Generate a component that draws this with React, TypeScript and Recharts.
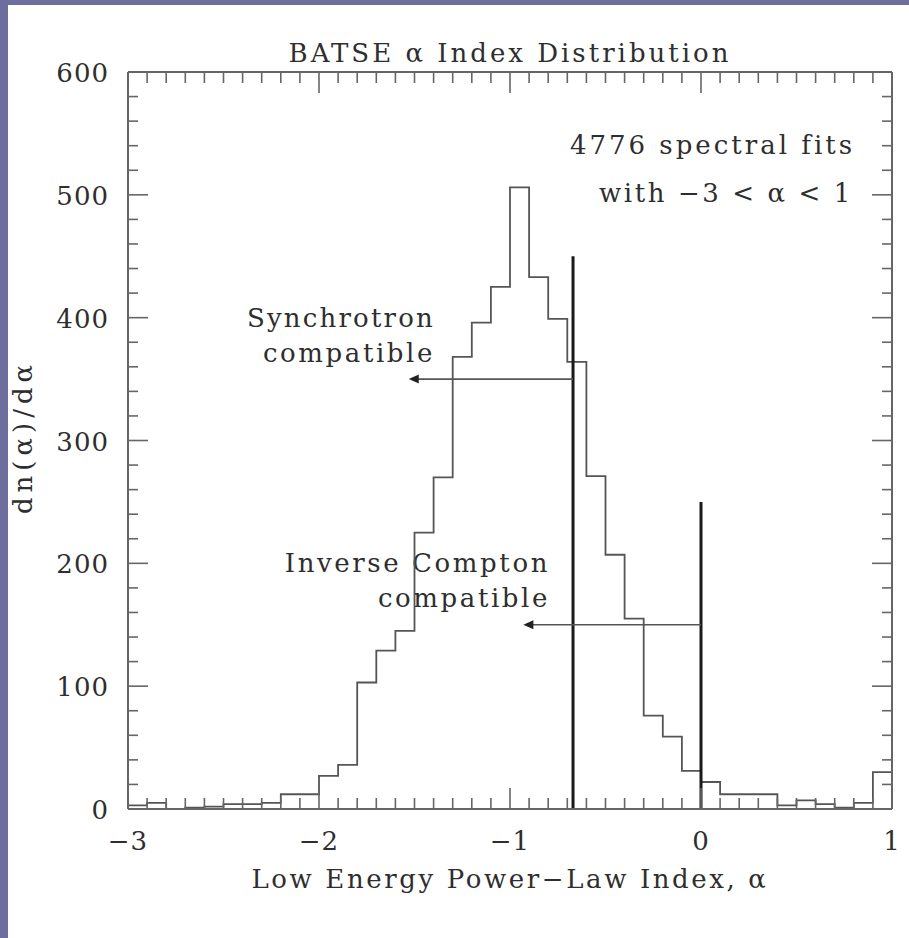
import { ComposedChart, Line, XAxis, YAxis, ReferenceLine, ReferenceDot } from 'recharts'

// bin edges of the alpha histogram (width 0.1), also used as x tick positions
const binEdges = [
  -3, -2.9, -2.8, -2.7, -2.6, -2.5, -2.4, -2.3, -2.2, -2.1,
  -2, -1.9, -1.8, -1.7, -1.6, -1.5, -1.4, -1.3, -1.2, -1.1,
  -1, -0.9, -0.8, -0.7, -0.6, -0.5, -0.4, -0.3, -0.2, -0.1,
  0, 0.1, 0.2, 0.3, 0.4, 0.5, 0.6, 0.7, 0.8, 0.9, 1,
]

// dn(alpha)/dalpha per bin
const binCounts = [
  3, 5, 0, 1, 2, 4, 4, 5, 12, 12,
  27, 36, 103, 129, 145, 225, 270, 368, 396, 425,
  506, 433, 399, 364, 271, 207, 155, 76, 59, 31,
  22, 12, 12, 12, 3, 7, 4, 1, 5, 30,
]

const yTicks = [
  0, 20, 40, 60, 80, 100, 120, 140, 160, 180, 200, 220, 240, 260, 280, 300,
  320, 340, 360, 380, 400, 420, 440, 460, 480, 500, 520, 540, 560, 580, 600,
]

// model boundaries: alpha, line top, arrow level, arrow tip
const synchrotron = { alpha: -0.67, top: 450, arrowY: 350, tip: -1.53 }
const inverseCompton = { alpha: 0, top: 250, arrowY: 150, tip: -0.93 }

const histData = binEdges.map((x, i) => ({ x, y: binCounts[Math.min(i, binCounts.length - 1)] }))

const FONT = '"DejaVu Serif", serif'
const INK = '#2e2e2e'
const FRAME = '#666'

const isMajorX = (v: number) => Math.abs(v - Math.round(v)) < 1e-6
const fmt = (v: number) => (v < 0 ? '\u2212' + Math.abs(v) : String(v))

function BottomTick(props: any) {
  const { x, y, payload } = props
  const major = isMajorX(payload.value)
  return (
    <g>
      <line x1={x} x2={x} y1={y} y2={y - (major ? 21 : 11)} stroke={FRAME} strokeWidth={1.6} />
      {major && (
        <text x={x} y={y + 41} textAnchor="middle" fontFamily={FONT} fontSize={26} fill={INK} letterSpacing={1}>
          {fmt(Math.round(payload.value))}
        </text>
      )}
    </g>
  )
}

function TopTick(props: any) {
  const { x, y, payload } = props
  const major = isMajorX(payload.value)
  return <line x1={x} x2={x} y1={y} y2={y + (major ? 21 : 11)} stroke={FRAME} strokeWidth={1.6} />
}

function LeftTick(props: any) {
  const { x, y, payload } = props
  const major = payload.value % 100 === 0
  return (
    <g>
      <line x1={x} x2={x + (major ? 20 : 10)} y1={y} y2={y} stroke={FRAME} strokeWidth={1.6} />
      {major && (
        <text x={x - 19} y={y + 10} textAnchor="end" fontFamily={FONT} fontSize={26} fill={INK} letterSpacing={1}>
          {payload.value}
        </text>
      )}
    </g>
  )
}

function RightTick(props: any) {
  const { x, y, payload } = props
  const major = payload.value % 100 === 0
  return <line x1={x} x2={x - (major ? 20 : 10)} y1={y} y2={y} stroke={FRAME} strokeWidth={1.6} />
}

function ArrowHead(props: any) {
  const { cx, cy } = props
  return <path d={`M${cx},${cy} L${cx + 10},${cy - 4.5} L${cx + 10},${cy + 4.5} Z`} fill="#222" />
}

const textStyle = { fontFamily: FONT, fontSize: 26, fill: INK, letterSpacing: 2.6 }

export default function App() {
  return (
    <div style={{ position: 'absolute', left: 0, top: 0, width: 909, height: 938, background: '#6d6d9e' }}>
      <div style={{ position: 'absolute', left: 8, top: 5, width: 901, height: 933, background: '#fff' }}>
        <ComposedChart
          width={901}
          height={933}
          data={histData}
          margin={{ top: 57, right: 7, bottom: 89, left: 60 }}
        >
          <XAxis
            dataKey="x"
            type="number"
            domain={[-3, 1]}
            allowDataOverflow
            ticks={binEdges}
            interval={0}
            height={40}
            tickSize={0}
            tickMargin={0}
            tickLine={false}
            tick={<BottomTick />}
            axisLine={{ stroke: FRAME, strokeWidth: 2 }}
          />
          <XAxis
            xAxisId="top"
            orientation="top"
            dataKey="x"
            type="number"
            domain={[-3, 1]}
            allowDataOverflow
            ticks={binEdges}
            interval={0}
            height={10}
            tickSize={0}
            tickMargin={0}
            tickLine={false}
            tick={<TopTick />}
            axisLine={{ stroke: FRAME, strokeWidth: 2 }}
          />
          <YAxis
            type="number"
            domain={[0, 600]}
            allowDataOverflow
            ticks={yTicks}
            interval={0}
            width={60}
            tickSize={0}
            tickMargin={0}
            tickLine={false}
            tick={<LeftTick />}
            axisLine={{ stroke: FRAME, strokeWidth: 2 }}
          />
          <YAxis
            yAxisId="right"
            orientation="right"
            type="number"
            domain={[0, 600]}
            allowDataOverflow
            ticks={yTicks}
            interval={0}
            width={10}
            tickSize={0}
            tickMargin={0}
            tickLine={false}
            tick={<RightTick />}
            axisLine={{ stroke: FRAME, strokeWidth: 2 }}
          />

          <Line
            type="stepAfter"
            dataKey="y"
            stroke="#555"
            strokeWidth={1.8}
            dot={false}
            activeDot={false}
            isAnimationActive={false}
          />

          {[synchrotron, inverseCompton].map((b, i) => (
            <ReferenceLine
              key={'v' + i}
              segment={[{ x: b.alpha, y: 0 }, { x: b.alpha, y: b.top }]}
              stroke="#1a1a1a"
              strokeWidth={3}
            />
          ))}
          {[synchrotron, inverseCompton].map((b, i) => (
            <ReferenceLine
              key={'a' + i}
              segment={[{ x: b.alpha, y: b.arrowY }, { x: b.tip + 0.03, y: b.arrowY }]}
              stroke="#555"
              strokeWidth={1.6}
            />
          ))}
          {[synchrotron, inverseCompton].map((b, i) => (
            <ReferenceDot key={'h' + i} x={b.tip} y={b.arrowY} r={0} shape={<ArrowHead />} />
          ))}

          <text x={502} y={57} textAnchor="middle" {...textStyle} letterSpacing={3}>
            BATSE α Index Distribution
          </text>
          <text x={847} y={149} textAnchor="end" {...textStyle} letterSpacing={3}>4776 spectral fits</text>
          <text x={845} y={197} textAnchor="end" {...textStyle}>with −3 &lt; α &lt; 1</text>
          <text x={427} y={322} textAnchor="end" {...textStyle} letterSpacing={2.2}>Synchrotron</text>
          <text x={427} y={357} textAnchor="end" {...textStyle}>compatible</text>
          <text x={542} y={567} textAnchor="end" {...textStyle}>Inverse Compton</text>
          <text x={542} y={602} textAnchor="end" {...textStyle}>compatible</text>
          <text x={502} y={883} textAnchor="middle" {...textStyle}>Low Energy Power−Law Index, α</text>
          <text transform="translate(24, 432) rotate(-90)" x={0} y={0} textAnchor="middle" {...textStyle} letterSpacing={5}>
            dn(α)/dα
          </text>
        </ComposedChart>
      </div>
    </div>
  )
}
